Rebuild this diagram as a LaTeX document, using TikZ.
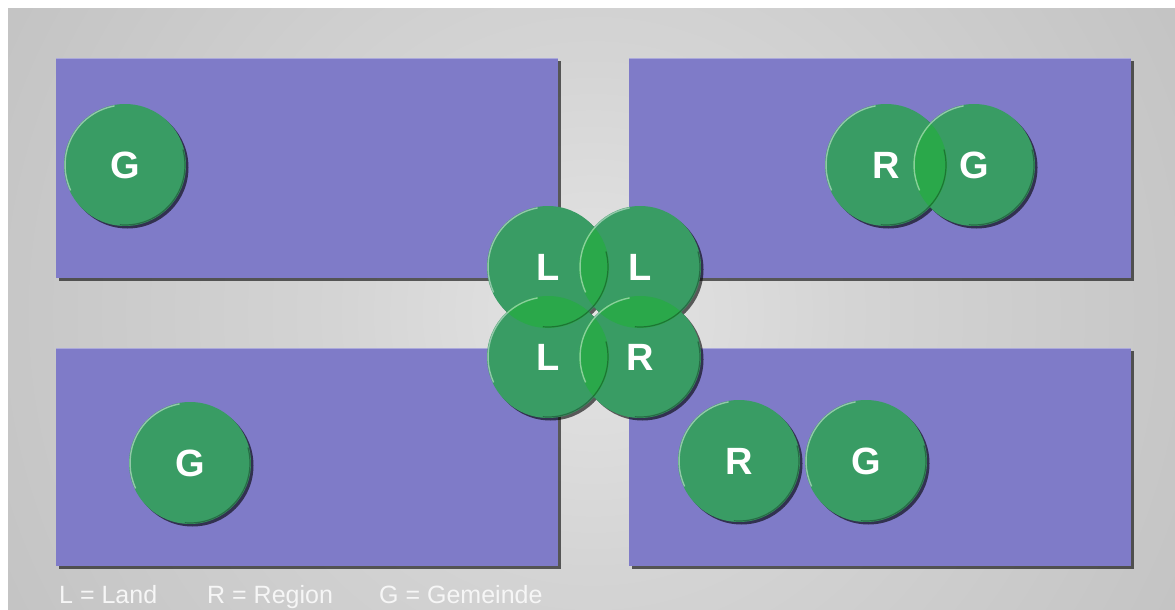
\documentclass[tikz,border=0pt]{standalone}
\usepackage{fontspec}
\setmainfont{Liberation Sans}
\usetikzlibrary{shadows}
\definecolor{rectc}{RGB}{127,123,200}
\definecolor{discc}{RGB}{57,156,100}
\definecolor{lensc}{RGB}{42,168,74}
\definecolor{bgA}{RGB}{228,228,228}
\definecolor{bgB}{RGB}{212,212,212}
\definecolor{bgC}{RGB}{196,196,196}
\definecolor{bgD}{RGB}{191,191,191}
\definecolor{legc}{RGB}{246,246,246}
\pgfdeclareradialshading{bgshade}{\pgfpoint{0bp}{0bp}}{color(0bp)=(bgA); color(10bp)=(bgB); color(25bp)=(bgC); color(32bp)=(bgD); color(50bp)=(bgD)}
\tikzset{
  panel/.style={rectangle, fill=rectc, inner sep=0, minimum width=502pt, minimum height=220pt,
    drop shadow={shadow xshift=3pt, shadow yshift=-3pt, opacity=.6, fill=black}},
  disc/.style={circle, minimum size=122pt, inner sep=0, fill=discc, text=white,
    font=\fontsize{38}{38}\selectfont\bfseries,
    drop shadow={shadow xshift=2.5pt, shadow yshift=-2.5pt, opacity=.6, fill=black}},
  lens/.style={fill=lensc},
  rimlight/.style={draw=white, draw opacity=.45, line width=1.4pt},
  rimdark/.style={draw=black, draw opacity=.3, line width=1.2pt},
  legend/.style={text=legc, font=\fontsize{25}{25}\selectfont, inner sep=0, anchor=base west}
}
\newcommand\rims[1]{%
  \path[rimlight] (#1.center) ++(100:60pt) arc[start angle=100, end angle=205, radius=60pt];
  \path[rimdark] (#1.center) ++(-95:60pt) arc[start angle=-95, end angle=15, radius=60pt];
}
\newcommand\lensfill[2]{%
  \begin{scope}
    \clip (#1.center) circle[radius=61pt];
    \fill[lens] (#2.center) circle[radius=61pt];
  \end{scope}
}
\begin{document}
\begin{tikzpicture}[x=1pt,y=-1pt]
\useasboundingbox (0,0) rectangle (1175,610);
\fill[white] (0,0) rectangle (1175,610);
\begin{scope}
  \clip (8,9) rectangle (1175,610);
  \shade[shading=bgshade] (-57,-337) rectangle (1243,963);
\end{scope}
% panels
\node[panel, minimum height=220pt] (p1) at (307,168) {};
\node[panel, minimum height=220pt] (p2) at (880,168) {};
\node[panel, minimum height=218pt] (p3) at (307,457) {};
\node[panel, minimum height=218pt] (p4) at (880,457) {};
\foreach \p in {p1,p2,p3,p4}{
  \draw[white, opacity=.35, line width=1pt] (\p.north west) ++(0,0.5) -- ([yshift=-0.5pt]\p.north east);
}
% single discs
\node[disc] (g1) at (125,165) {G};
\node[disc] (g3) at (190,463) {G};
% top right pair
\node[disc] (r2) at (886,165) {R};
\node[disc] (g2) at (974,165) {G};
% bottom right pair
\node[disc] (r4) at (739,461) {R};
\node[disc] (g4) at (866,461) {G};
% central cluster
\node[disc] (ltl) at (548,267) {L};
\node[disc] (ltr) at (640,267) {L};
\node[disc] (lbl) at (548,357) {L};
\node[disc] (rbr) at (640,357) {R};
% lenses
\lensfill{r2}{g2}
\lensfill{ltl}{ltr}
\lensfill{ltl}{lbl}
\lensfill{ltr}{rbr}
\lensfill{lbl}{rbr}
% rims
\foreach \n in {g1,g3,r2,g2,r4,g4,ltl,ltr,lbl,rbr}{ \rims{\n} }
% legend
\node[legend] (leg1) at (59,603) {L = Land};
\node[legend] (leg2) at (207,603) {R = Region};
\node[legend] (leg3) at (379,603) {G = Gemeinde};
\end{tikzpicture}
\end{document}
